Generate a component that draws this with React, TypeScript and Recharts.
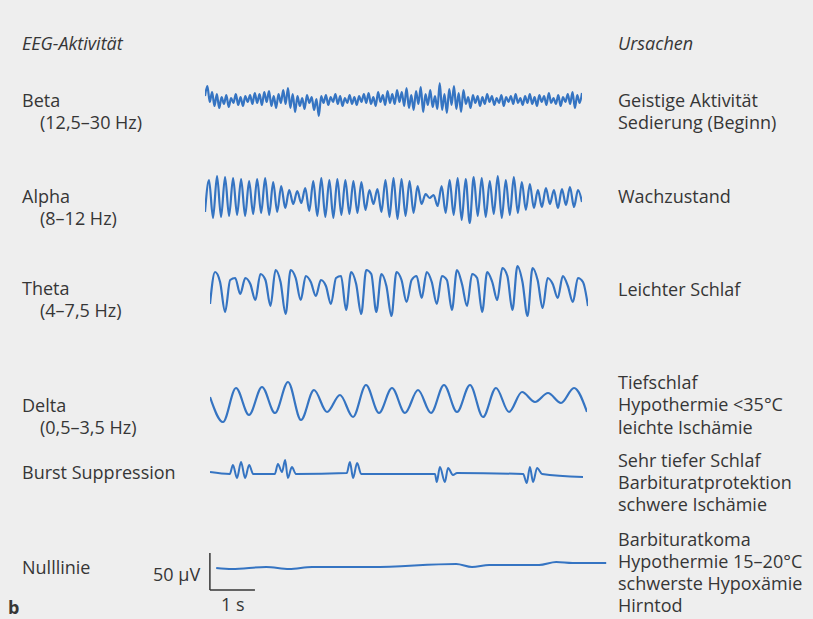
import React from 'react';
import { LineChart, Line, XAxis, YAxis, ReferenceLine } from 'recharts';

// amplitudes (arbitrary units, positive = up)
const BETA = [
  4, 14, -2, 8, -6, 6, -8, 3, -4, 5, -7, 2, -3, 6, -5, 3, -6, 4, -2,
  5, -4, 7, -3, 6, -5, 8, -2, 9, -6, 4, -8, 6, -3, 10,
  -4, 12, -8, 6, -12, 4, -6, 2, -9, 5, -3, 3, -10, 1, -16,
  4, -3, 5, -5, 3, -2, 6, -4, 4, -6, 2, -3, 5, -4, 3, -5, 4,
  -2, 6, -3, 7, -4, 3, -6, 8, -2, 5, -5, 9, -3, 6, -4, 10, -2,
  8, -6, 12, -8, 5, -10, 9, -4, 13, -12, 6, -5, 10, -7, 4, -9, 17,
  -10, 6, -13, 11, -5, 14, -9, 7, -12, 10, -4, 3, -8, 5, -3, 4, -6,
  3, -4, 6, -2, 4, -5, 2, -3, 5, -6, 3, -2, 4, -4, 6, -3, 2,
  -5, 4, -3, 6, -4, 3, -6, 5, -2, 4, -5, 7, -3, 2, -4, 5, -6, 3, -2, 6, -4, 8, -8, 5, -3, 7,
];

const ALPHA = [
  -14, 18, -20, 22, -19, 21, -18, 20, -17, 19, -18, 17, -16, 19, -15, 20, -17, 16, -14, 12, -10,
  8, -6, 7, -5,
  10, -13, 17, -18, 20, -19, 18, -20, 19, -17, 18, -16, 17, -15, 16, -12,
  8, -6, 9,
  -14, 18, -19, 20, -21, 19, -18, 17, -15, 12,
  -6, 4, 0, 3,
  -8, 12, -15, 18, -17, 20, -22, 19, -25, 21, -18, 20, -19, 17, -16, 22, -20, 18, -17, 21, -15, 16, -12, 14,
  -10, 8, -9, 10, -6, 8, -10, 9, -7, 11, -9, 8, -4,
];

const THETA = [
  -14,
  18, 8, -22, 10, 12, -4, 12, 6, -10, 16, 10, -16, 20, 8, -24,
  20, 12, -10, 14, 8, -6, 10, 4, -14, 12, 14, -20, 18, 6, -24,
  20, 16, -22, 16, 4, -26, 18, 10, -12, 10, 14, -8, 18, 8, -14,
  14, 10, -20, 20, 6, -16, 16, 12, -22, 18, 8, -10, 22, 14, -20,
  24, 8, -26, 22, 10, -18, 12, 6, -8, 14, 4, -12, 12, 8, -16,
];

const DELTA = [
  5, -20, 14, -13, 15, -11, 20, -18, 12, -10, 7, -15, 17, -11, 14,
  -11, 12, -11, 17, -10, 17, -15, 14, -10, 10, 0, 9, -1, 14, -10,
];

// [seconds, amplitude]
const BURST: [number, number][] = [
  [0, 2], [0.44, 0], [0.51, 9], [0.6, -4], [0.69, 12], [0.78, -4], [0.87, 9], [0.96, 0],
  [1.44, 0], [1.51, 10], [1.6, 2], [1.67, 14], [1.73, -4], [1.82, 7], [1.91, 0],
  [3.04, 1], [3.11, 12], [3.18, -4], [3.27, 11], [3.36, 0],
  [5.0, 0], [5.04, -8], [5.11, 7], [5.22, -8], [5.29, 6], [5.4, -1], [5.49, 1],
  [6.96, 0], [7.04, -9], [7.11, 7], [7.18, -8], [7.27, 6], [7.38, 0], [8.29, -3],
];

const NULL_LINE: [number, number][] = [
  [0.16, 0], [0.51, -1], [1.27, 1], [1.78, -1], [2.29, 1], [3.62, 1], [5.49, 4],
  [5.84, 1], [6.22, 3], [7.33, 3], [7.71, 6], [8.07, 5], [8.82, 5],
];

const LEFT_TEXT = [
  ['Beta', '(12,5–30 Hz)'],
  ['Alpha', '(8–12 Hz)'],
  ['Theta', '(4–7,5 Hz)'],
  ['Delta', '(0,5–3,5 Hz)'],
  ['Burst Suppression'],
  ['Nulllinie'],
];

const RIGHT_TEXT = [
  ['Geistige Aktivität', 'Sedierung (Beginn)'],
  ['Wachzustand'],
  ['Leichter Schlaf'],
  ['Tiefschlaf', 'Hypothermie <35°C', 'leichte Ischämie'],
  ['Sehr tiefer Schlaf', 'Barbituratprotektion', 'schwere Ischämie'],
  ['Barbituratkoma', 'Hypothermie 15–20°C', 'schwerste Hypoxämie', 'Hirntod'],
];

const WAVE = '#3574c2';
const INK = '#363636';
const FONT = '"Open Sans", "Noto Sans", sans-serif';

// one text block per group; y = centre of the first line
function Block({ x, y, lh, lines, indent = 0, italic, bold }: any) {
  return (
    <div
      style={{
        position: 'absolute', left: x + indent, top: y - lh / 2, lineHeight: `${lh}px`, whiteSpace: 'nowrap',
        textIndent: -indent, fontSize: 18, fontStyle: italic ? 'italic' : 'normal',
        fontWeight: bold ? 700 : 400, color: INK,
      }}
    >
      {lines.map((s: string, i: number) => (
        <React.Fragment key={i}>
          {i > 0 && <br />}
          {s}
        </React.Fragment>
      ))}
    </div>
  );
}

function Trace({ values, left, top, width, height }: any) {
  const data = values.map((v: number, i: number) => ({ t: i, v }));
  return (
    <div style={{ position: 'absolute', left, top }}>
      <LineChart width={width} height={height} data={data} margin={{ top: 0, right: 0, bottom: 0, left: 0 }}>
        <XAxis dataKey="t" type="number" domain={[0, values.length - 1]} hide />
        <YAxis type="number" domain={[-height / 2, height / 2]} hide allowDataOverflow />
        <Line dataKey="v" type="monotone" stroke={WAVE} strokeWidth={2.2} dot={false} isAnimationActive={false} />
      </LineChart>
    </div>
  );
}

export default function App() {
  const leftPos = [[100, 22], [196, 22], [288, 22], [405, 22], [472, 22], [567, 22]];
  const rightPos = [[100, 22], [196, 22], [289, 22], [382, 22.5], [460, 22], [539, 22]];
  const burstData = BURST.map(([t, v]) => ({ t, v }));
  const nullData = NULL_LINE.map(([t, v]) => ({ t, v }));

  return (
    <div style={{ position: 'fixed', left: 0, top: 0, width: 813, height: 619, background: '#eeeeee', fontFamily: FONT, overflow: 'hidden' }}>
      <Block x={22} y={43} lh={22} lines={['EEG-Aktivität']} italic />
      <Block x={618} y={43} lh={22} lines={['Ursachen']} italic />

      {LEFT_TEXT.map((lines, i) => (
        <Block key={`l${i}`} x={22} indent={18} y={leftPos[i][0]} lh={leftPos[i][1]} lines={lines} />
      ))}
      {RIGHT_TEXT.map((lines, i) => (
        <Block key={`r${i}`} x={618} y={rightPos[i][0]} lh={rightPos[i][1]} lines={lines} />
      ))}

      <Trace values={BETA} left={205} top={78} width={377} height={44} />
      <Trace values={ALPHA} left={205} top={171} width={377} height={54} />
      <Trace values={THETA} left={210} top={260} width={378} height={60} />
      <Trace values={DELTA} left={210} top={377} width={377} height={50} />

      <div style={{ position: 'absolute', left: 210, top: 459 }}>
        <LineChart width={373} height={30} data={burstData} margin={{ top: 0, right: 0, bottom: 0, left: 0 }}>
          <XAxis dataKey="t" type="number" domain={[0, 8.29]} hide />
          <YAxis type="number" domain={[-15, 15]} hide allowDataOverflow />
          <Line dataKey="v" type="monotone" stroke={WAVE} strokeWidth={2} dot={false} isAnimationActive={false} />
        </LineChart>
      </div>

      <div style={{ position: 'absolute', left: 209, top: 548 }}>
        <LineChart width={399} height={46} data={nullData} margin={{ top: 0, right: 0, bottom: 0, left: 0 }}>
          <XAxis dataKey="t" type="number" domain={[0, 8.86]} hide />
          <YAxis type="number" domain={[-26, 20]} hide allowDataOverflow />
          <ReferenceLine segment={[{ x: 0.02, y: 15 }, { x: 0.02, y: -22 }]} stroke={INK} strokeWidth={1.5} />
          <ReferenceLine segment={[{ x: 0.02, y: -22 }, { x: 1.02, y: -22 }]} stroke={INK} strokeWidth={1.5} />
          <Line dataKey="v" type="monotone" stroke={WAVE} strokeWidth={2} dot={false} isAnimationActive={false} />
        </LineChart>
      </div>

      <Block x={153} y={574} lh={20} lines={['50 µV']} />
      <Block x={221} y={604} lh={20} lines={['1 s']} />
      <Block x={8} y={607} lh={20} lines={['b']} bold />
    </div>
  );
}
